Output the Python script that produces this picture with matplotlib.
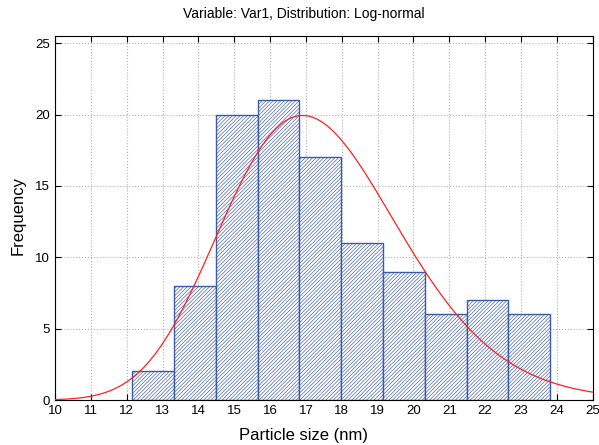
import numpy as np
import matplotlib
matplotlib.use("Agg")
import matplotlib.pyplot as plt

plt.rcParams['font.family'] = ['Liberation Sans', 'DejaVu Sans']
plt.rcParams['hatch.linewidth'] = 0.45

# histogram bins (particle size, nm) and counts
bin_start = 12.16
bin_width = 1.165
counts = [2, 8, 20, 21, 17, 11, 9, 6, 7, 6]

# fitted log-normal parameters
ln_mu = 2.849
ln_sigma = 0.146

edges = bin_start + bin_width * np.arange(len(counts) + 1)
n_total = sum(counts)

fig = plt.figure(figsize=(5.99, 4.45), dpi=100)
ax = fig.add_axes([0.0918, 0.1011, 0.8977, 0.818])

ax.bar(edges[:-1], counts, width=bin_width, align='edge',
       facecolor='white', edgecolor='#3a5aac', hatch='/' * 9,
       linewidth=1.0, zorder=2)

xs = np.linspace(10, 25, 400)
pdf = np.exp(-(np.log(xs) - ln_mu) ** 2 / (2 * ln_sigma ** 2)) / (xs * ln_sigma * np.sqrt(2 * np.pi))
ax.plot(xs, pdf * n_total * bin_width, color='#ff2020', linewidth=0.9, zorder=3)

ax.set_xlim(10, 25)
ax.set_ylim(0, 25.5)
ax.set_xticks(range(10, 26))
ax.set_yticks(range(0, 26, 5))
ax.tick_params(direction='in', top=True, right=True, length=4, labelsize=9.5, width=0.8)
ax.grid(True, linestyle=':', color='#b0b0b0', linewidth=0.8, zorder=0)
ax.set_axisbelow(True)
for s in ax.spines.values():
    s.set_linewidth(0.8)

fig.suptitle("Variable: Var1, Distribution: Log-normal", fontsize=10, x=0.507, y=0.985)
fig.text(0.507, 0.004, "Particle size (nm)", fontsize=12, ha='center', va='bottom')
fig.text(0.018, 0.515, "Frequency", fontsize=12, rotation=90, ha='left', va='center')

plt.savefig("out.png", dpi=100)
